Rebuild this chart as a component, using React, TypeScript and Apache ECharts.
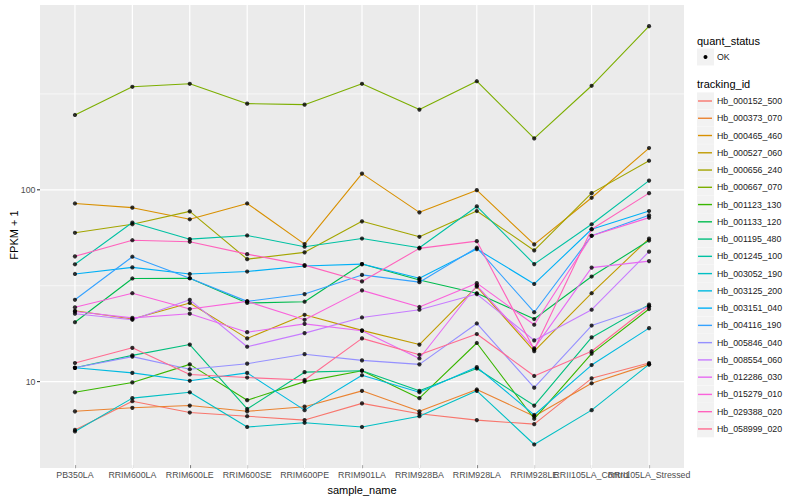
import React, { useEffect, useRef } from "react";
import * as echarts from "echarts";

const categories = [
  "PB350LA", "RRIM600LA", "RRIM600LE", "RRIM600SE", "RRIM600PE", "RRIM901LA",
  "RRIM928BA", "RRIM928LA", "RRIM928LE", "RRII105LA_Control", "RRII105LA_Stressed",
];

const trackingIds = [
  "Hb_000152_500", "Hb_000373_070", "Hb_000465_460", "Hb_000527_060", "Hb_000656_240",
  "Hb_000667_070", "Hb_001123_130", "Hb_001133_120", "Hb_001195_480", "Hb_001245_100",
  "Hb_003052_190", "Hb_003125_200", "Hb_003151_040", "Hb_004116_190", "Hb_005846_040",
  "Hb_008554_060", "Hb_012286_030", "Hb_015279_010", "Hb_029388_020", "Hb_058999_020",
];

const colors = [
  "#F8766D", "#EA8331", "#D89000", "#C09B00", "#A3A500", "#7CAE00", "#39B600", "#00BB4E",
  "#00BF7D", "#00C1A3", "#00BFC4", "#00BAE0", "#00B0F6", "#35A2FF", "#9590FF", "#C77CFF",
  "#E76BF3", "#FA62DB", "#FF62BC", "#FF6C91",
];

const hb_000152_500 = [5.6, 7.9, 6.9, 6.6, 6.3, 7.7, 6.8, 6.3, 6.0, 10.4, 12.5];
const hb_000373_070 = [7.0, 7.3, 7.5, 7.0, 7.4, 8.95, 7.0, 9.1, 6.6, 9.8, 12.3];
const hb_000465_460 = [84.9, 80.7, 70.2, 84.9, 52.1, 121.5, 76.3, 99.6, 51.9, 90.9, 165.1];
const hb_000527_060 = [23.4, 21.2, 25.7, 16.8, 22.3, 18.5, 15.6, 31.3, 14.4, 28.9, 55.7];
const hb_000656_240 = [59.7, 66.1, 77.2, 43.5, 47.2, 68.5, 56.9, 77.5, 48.3, 96.1, 141.8];
const hb_000667_070 = [245.6, 344.5, 357.1, 281.3, 278.0, 357.1, 261.9, 368.4, 185.3, 348.7, 713.5];
const hb_001123_130 = [8.8, 9.9, 12.3, 8.0, 10.0, 11.4, 8.2, 15.9, 6.4, 14.0, 23.9];
const hb_001133_120 = [20.4, 34.5, 34.6, 25.7, 26.1, 41.0, 33.9, 28.9, 21.2, 35.3, 54.4];
const hb_001195_480 = [11.8, 13.7, 15.6, 7.2, 11.2, 11.4, 8.95, 11.7, 7.5, 17.0, 25.2];
const hb_001245_100 = [40.9, 67.5, 55.3, 57.8, 50.5, 55.7, 49.9, 81.9, 41.0, 66.1, 111.7];
const hb_003052_190 = [5.5, 8.2, 8.8, 5.8, 6.1, 5.8, 6.6, 8.95, 4.7, 7.1, 12.3];
const hb_003125_200 = [11.8, 11.1, 10.1, 11.1, 7.1, 10.8, 8.8, 11.9, 6.7, 12.2, 19.0];
const hb_003151_040 = [36.4, 39.4, 36.4, 37.5, 40.1, 41.0, 34.6, 49.1, 32.3, 62.3, 77.5];
const hb_004116_190 = [26.7, 44.8, 34.6, 26.2, 28.6, 36.0, 33.0, 49.9, 23.0, 57.6, 73.6];
const hb_005846_040 = [11.8, 13.5, 11.6, 12.4, 13.9, 12.9, 12.3, 20.1, 9.3, 19.6, 24.7];
const hb_008554_060 = [22.6, 21.0, 26.7, 15.2, 17.9, 21.6, 23.7, 28.6, 16.4, 23.7, 47.6];
const hb_012286_030 = [23.2, 21.5, 22.6, 18.1, 20.0, 18.4, 13.2, 31.7, 14.9, 39.3, 42.5];
const hb_015279_010 = [24.4, 28.9, 23.9, 26.2, 21.0, 29.9, 24.5, 32.6, 19.8, 57.6, 71.6];
const hb_029388_020 = [45.0, 54.6, 53.6, 46.2, 40.5, 33.3, 49.5, 54.0, 14.7, 62.3, 96.1];
const hb_058999_020 = [12.5, 15.0, 10.9, 10.5, 10.2, 16.8, 13.8, 17.7, 10.7, 14.4, 24.7];

const seriesValues = [
  hb_000152_500, hb_000373_070, hb_000465_460, hb_000527_060, hb_000656_240,
  hb_000667_070, hb_001123_130, hb_001133_120, hb_001195_480, hb_001245_100,
  hb_003052_190, hb_003125_200, hb_003151_040, hb_004116_190, hb_005846_040,
  hb_008554_060, hb_012286_030, hb_015279_010, hb_029388_020, hb_058999_020,
];

const yMin = 3.67;
const yMax = 919.6;
const majorBreaks = [10, 100];
const majorLabels = ["10", "100"];
const minorBreaks = [31.62, 316.2];
const quantStatus = ["OK"];

const FONT = "'Liberation Sans', Arial, Helvetica, sans-serif";

export default function App() {
  const ref = useRef<HTMLDivElement>(null);

  useEffect(() => {
    const chart = echarts.init(ref.current!, null, { renderer: "svg" });

    const lineSeries = trackingIds.map((id, i) => ({
      name: id,
      type: "line",
      data: seriesValues[i],
      color: colors[i],
      symbol: "none",
      showSymbol: false,
      silent: true,
      z: 3,
      lineStyle: { width: 1.1, color: colors[i] },
    }));

    const pointData: any[] = [];
    seriesValues.forEach((vals) => vals.forEach((v, j) => pointData.push([categories[j], v])));

    const legendTop = 92.37;
    const step = 17.26;

    const staticGraphic: any[] = [
      { type: "rect", z: 0, silent: true, shape: { x: 40, y: 5, width: 644, height: 463 }, style: { fill: "#EBEBEB" } },
      { type: "text", z: 10, x: 697, y: 41, style: { text: "quant_status", fontSize: 11, fontFamily: FONT, fill: "#000", verticalAlign: "middle" } },
      { type: "rect", z: 10, shape: { x: 697, y: 48.5, width: 17, height: 17 }, style: { fill: "#F2F2F2" } },
      { type: "circle", z: 11, shape: { cx: 705.5, cy: 57, r: 2 }, style: { fill: "#000" } },
      { type: "text", z: 11, x: 717, y: 57, style: { text: quantStatus[0], fontSize: 8.8, fontFamily: FONT, fill: "#1A1A1A", verticalAlign: "middle" } },
      { type: "text", z: 10, x: 697, y: 84.3, style: { text: "tracking_id", fontSize: 11, fontFamily: FONT, fill: "#000", verticalAlign: "middle" } },
      ...trackingIds.map((_, i) => ({
        type: "rect", z: 10,
        shape: { x: 697, y: legendTop + i * step, width: 17, height: 17 },
        style: { fill: "#F2F2F2" },
      })),
    ];

    const option: any = {
      animation: false,
      backgroundColor: "#FFFFFF",
      textStyle: { fontFamily: FONT },
      grid: { left: 45.25, width: 632.5, top: 5, height: 463, containLabel: false },
      xAxis: {
        type: "category",
        data: categories,
        boundaryGap: true,
        axisLine: { show: false },
        axisTick: { show: true, alignWithLabel: true, length: 3, lineStyle: { color: "#333333", width: 1.07 } },
        axisLabel: { interval: 0, rotate: 0, fontSize: 8.8, color: "#4D4D4D", margin: 5, fontFamily: FONT, hideOverlap: false },
        splitLine: { show: false },
        name: "sample_name",
        nameLocation: "middle",
        nameGap: 16,
        nameTextStyle: { fontSize: 11, color: "#000", fontFamily: FONT },
      },
      yAxis: {
        type: "log",
        logBase: 10,
        min: yMin,
        max: yMax,
        offset: 5.25,
        axisLine: { show: false },
        axisTick: { show: false },
        axisLabel: { show: false },
        splitLine: { show: false },
        name: "FPKM + 1",
        nameLocation: "middle",
        nameGap: 22,
        nameRotate: 90,
        nameTextStyle: { fontSize: 11, color: "#000", fontFamily: FONT },
      },
      legend: {
        show: true,
        orient: "vertical",
        left: 698,
        top: legendTop,
        padding: 0,
        itemGap: 0,
        itemWidth: 14,
        itemHeight: 1.4,
        icon: "rect",
        selectedMode: false,
        data: trackingIds.map((id, i) => ({ name: id, itemStyle: { color: colors[i] } })),
        textStyle: { fontSize: 8.8, color: "#1A1A1A", fontFamily: FONT, lineHeight: step },
        z: 12,
      },
      series: [
        ...lineSeries,
        {
          name: "OK",
          type: "scatter",
          data: pointData,
          symbol: "circle",
          symbolSize: 4.2,
          itemStyle: { color: "#000000" },
          silent: true,
          z: 4,
        },
      ],
      graphic: staticGraphic,
    };

    chart.setOption(option);

    const gridGraphic: any[] = [];
    const hLines = [
      ...minorBreaks.map((v) => ({ v, w: 0.6 })),
      ...majorBreaks.map((v) => ({ v, w: 1.2 })),
    ];
    hLines.forEach(({ v, w }) => {
      const y = chart.convertToPixel({ yAxisIndex: 0 } as any, v) as number;
      gridGraphic.push({ type: "line", z: 1, silent: true, shape: { x1: 40, y1: y, x2: 684, y2: y }, style: { stroke: "#FFFFFF", lineWidth: w } });
    });
    categories.forEach((c) => {
      const x = chart.convertToPixel({ xAxisIndex: 0 } as any, c) as number;
      gridGraphic.push({ type: "line", z: 1, silent: true, shape: { x1: x, y1: 5, x2: x, y2: 468 }, style: { stroke: "#FFFFFF", lineWidth: 1.2 } });
    });
    majorBreaks.forEach((v, i) => {
      const y = chart.convertToPixel({ yAxisIndex: 0 } as any, v) as number;
      gridGraphic.push({ type: "line", z: 10, silent: true, shape: { x1: 37, y1: y, x2: 40, y2: y }, style: { stroke: "#333333", lineWidth: 1.07 } });
      gridGraphic.push({
        type: "text", z: 10, silent: true, x: 35.5, y,
        style: { text: majorLabels[i], fontSize: 8.8, fontFamily: FONT, fill: "#4D4D4D", align: "right", verticalAlign: "middle" },
      });
    });

    chart.setOption({ graphic: [...staticGraphic, ...gridGraphic] });

    return () => chart.dispose();
  }, []);

  return <div ref={ref} style={{ position: "fixed", left: 0, top: 0, width: 800, height: 500 }} />;
}
